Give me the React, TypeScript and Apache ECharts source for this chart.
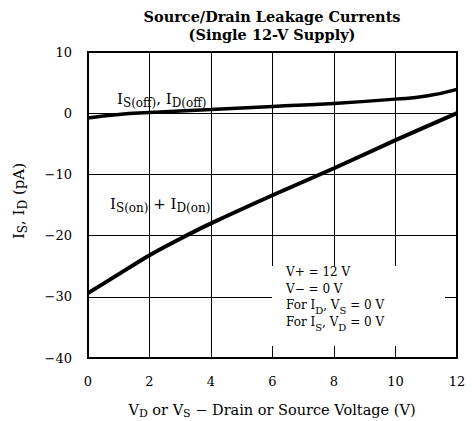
import React, { useEffect, useRef } from "react";
import * as echarts from "echarts";

const xTicks = [0, 2, 4, 6, 8, 10, 12];
const yTicks = [10, 0, -10, -20, -30, -40];
const offX = [0, 1, 2, 4, 6, 8, 10, 11, 12];
const offY = [-0.8, -0.2, 0.1, 0.6, 1.1, 1.6, 2.3, 2.8, 3.9];
const onX = [0, 1, 2, 3, 4, 6, 8, 10, 12];
const onY = [-29.4, -26.3, -23.2, -20.5, -18.0, -13.4, -9.0, -4.4, 0.0];

const FONT = "'DejaVu Serif', 'Liberation Serif', serif";

// main text: lineHeight = size, aligned top; subscript: taller lineHeight so it sits lower
const mk = (m: number, s: number, drop: number) => ({
  m: { fontSize: m, lineHeight: m, verticalAlign: "top", fontFamily: FONT, color: "#000" },
  s: { fontSize: s, lineHeight: m + 2 * drop, verticalAlign: "middle", fontFamily: FONT, color: "#000" },
});

export default function App() {
  const ref = useRef<HTMLDivElement>(null);
  useEffect(() => {
    document.body.style.margin = "0";
    const chart = echarts.init(ref.current!, null, { renderer: "svg" });
    const L = 88, R = 15, T = 52, B = 63;
    const lab = mk(15, 12, 4);
    const box = {
      m: { fontSize: 12, lineHeight: 16.5, verticalAlign: "top", fontFamily: FONT, color: "#000" },
      s: { fontSize: 10, lineHeight: 10, verticalAlign: "bottom", padding: [6, 0, 0, 0], fontFamily: FONT, color: "#000" },
    };
    chart.setOption({
      animation: false,
      backgroundColor: "#fff",
      grid: { left: L, right: R, top: T, bottom: B, show: true, borderColor: "#000", borderWidth: 2, backgroundColor: "transparent" },
      xAxis: {
        type: "value",
        min: xTicks[0],
        max: xTicks[xTicks.length - 1],
        interval: 2,
        axisLine: { show: false },
        axisTick: { show: false },
        splitLine: { show: true, lineStyle: { color: "#000", width: 1 } },
        axisLabel: { color: "#000", fontSize: 13, fontFamily: FONT, margin: 17 },
      },
      yAxis: {
        type: "value",
        min: yTicks[yTicks.length - 1],
        max: yTicks[0],
        interval: 10,
        axisLine: { show: false },
        axisTick: { show: false },
        splitLine: { show: true, lineStyle: { color: "#000", width: 1 } },
        axisLabel: {
          color: "#000",
          fontSize: 13,
          fontFamily: FONT,
          margin: 16,
          formatter: (v: number) => String(v).replace("-", "\u2212"),
        },
      },
      series: [
        {
          type: "line",
          name: "off",
          data: offX.map((x, i) => [x, offY[i]]),
          smooth: true,
          showSymbol: false,
          lineStyle: { color: "#000", width: 3.5 },
          z: 5,
        },
        {
          type: "line",
          name: "on",
          data: onX.map((x, i) => [x, onY[i]]),
          smooth: 0.3,
          showSymbol: false,
          lineStyle: { color: "#000", width: 4 },
          z: 5,
        },
      ],
      graphic: [
        {
          type: "text",
          x: 272,
          y: 9,
          z: 100,
          style: {
            text: "Source/Drain Leakage Currents",
            fontSize: 14.5,
            fontWeight: "bold",
            fontFamily: FONT,
            fill: "#000",
            align: "center",
          },
        },
        {
          type: "text",
          x: 272,
          y: 27,
          z: 100,
          style: {
            text: "(Single 12-V Supply)",
            fontSize: 14.5,
            fontWeight: "bold",
            fontFamily: FONT,
            fill: "#000",
            align: "center",
          },
        },
        {
          type: "rect",
          z: 90,
          shape: { x: 272, y: 266, width: 173, height: 80 },
          style: { fill: "#fff" },
        },
        {
          type: "text",
          x: 286,
          y: 266,
          z: 100,
          style: {
            text: "{m|V+ = 12 V}\n{m|V\u2212 = 0 V}\n{m|For I}{s|D}{m|, V}{s|S}{m| = 0 V}\n{m|For I}{s|S}{m|, V}{s|D}{m| = 0 V}",
            rich: box,
            fill: "#000",
          },
        },
        {
          type: "text",
          x: 117,
          y: 91,
          z: 100,
          style: { text: "{m|I}{s|S(off)}{m|, I}{s|D(off)}", rich: lab, fill: "#000" },
        },
        {
          type: "text",
          x: 110,
          y: 196,
          z: 100,
          style: { text: "{m|I}{s|S(on)}{m| + I}{s|D(on)}", rich: lab, fill: "#000" },
        },
        {
          type: "text",
          x: 11,
          y: 201,
          rotation: Math.PI / 2,
          z: 100,
          style: { text: "{m|I}{s|S}{m|, I}{s|D}{m| (pA)}", rich: lab, fill: "#000", align: "center" },
        },
        {
          type: "text",
          x: 272,
          y: 402,
          z: 100,
          style: { text: "{m|V}{s|D}{m| or V}{s|S}{m| \u2212 Drain or Source Voltage (V)}", rich: mk(14.5, 11, 4.5), fill: "#000", align: "center" },
        },
      ],
    });
    return () => chart.dispose();
  }, []);
  return <div ref={ref} style={{ width: 472, height: 421, position: "absolute", left: 0, top: 0 }} />;
}
